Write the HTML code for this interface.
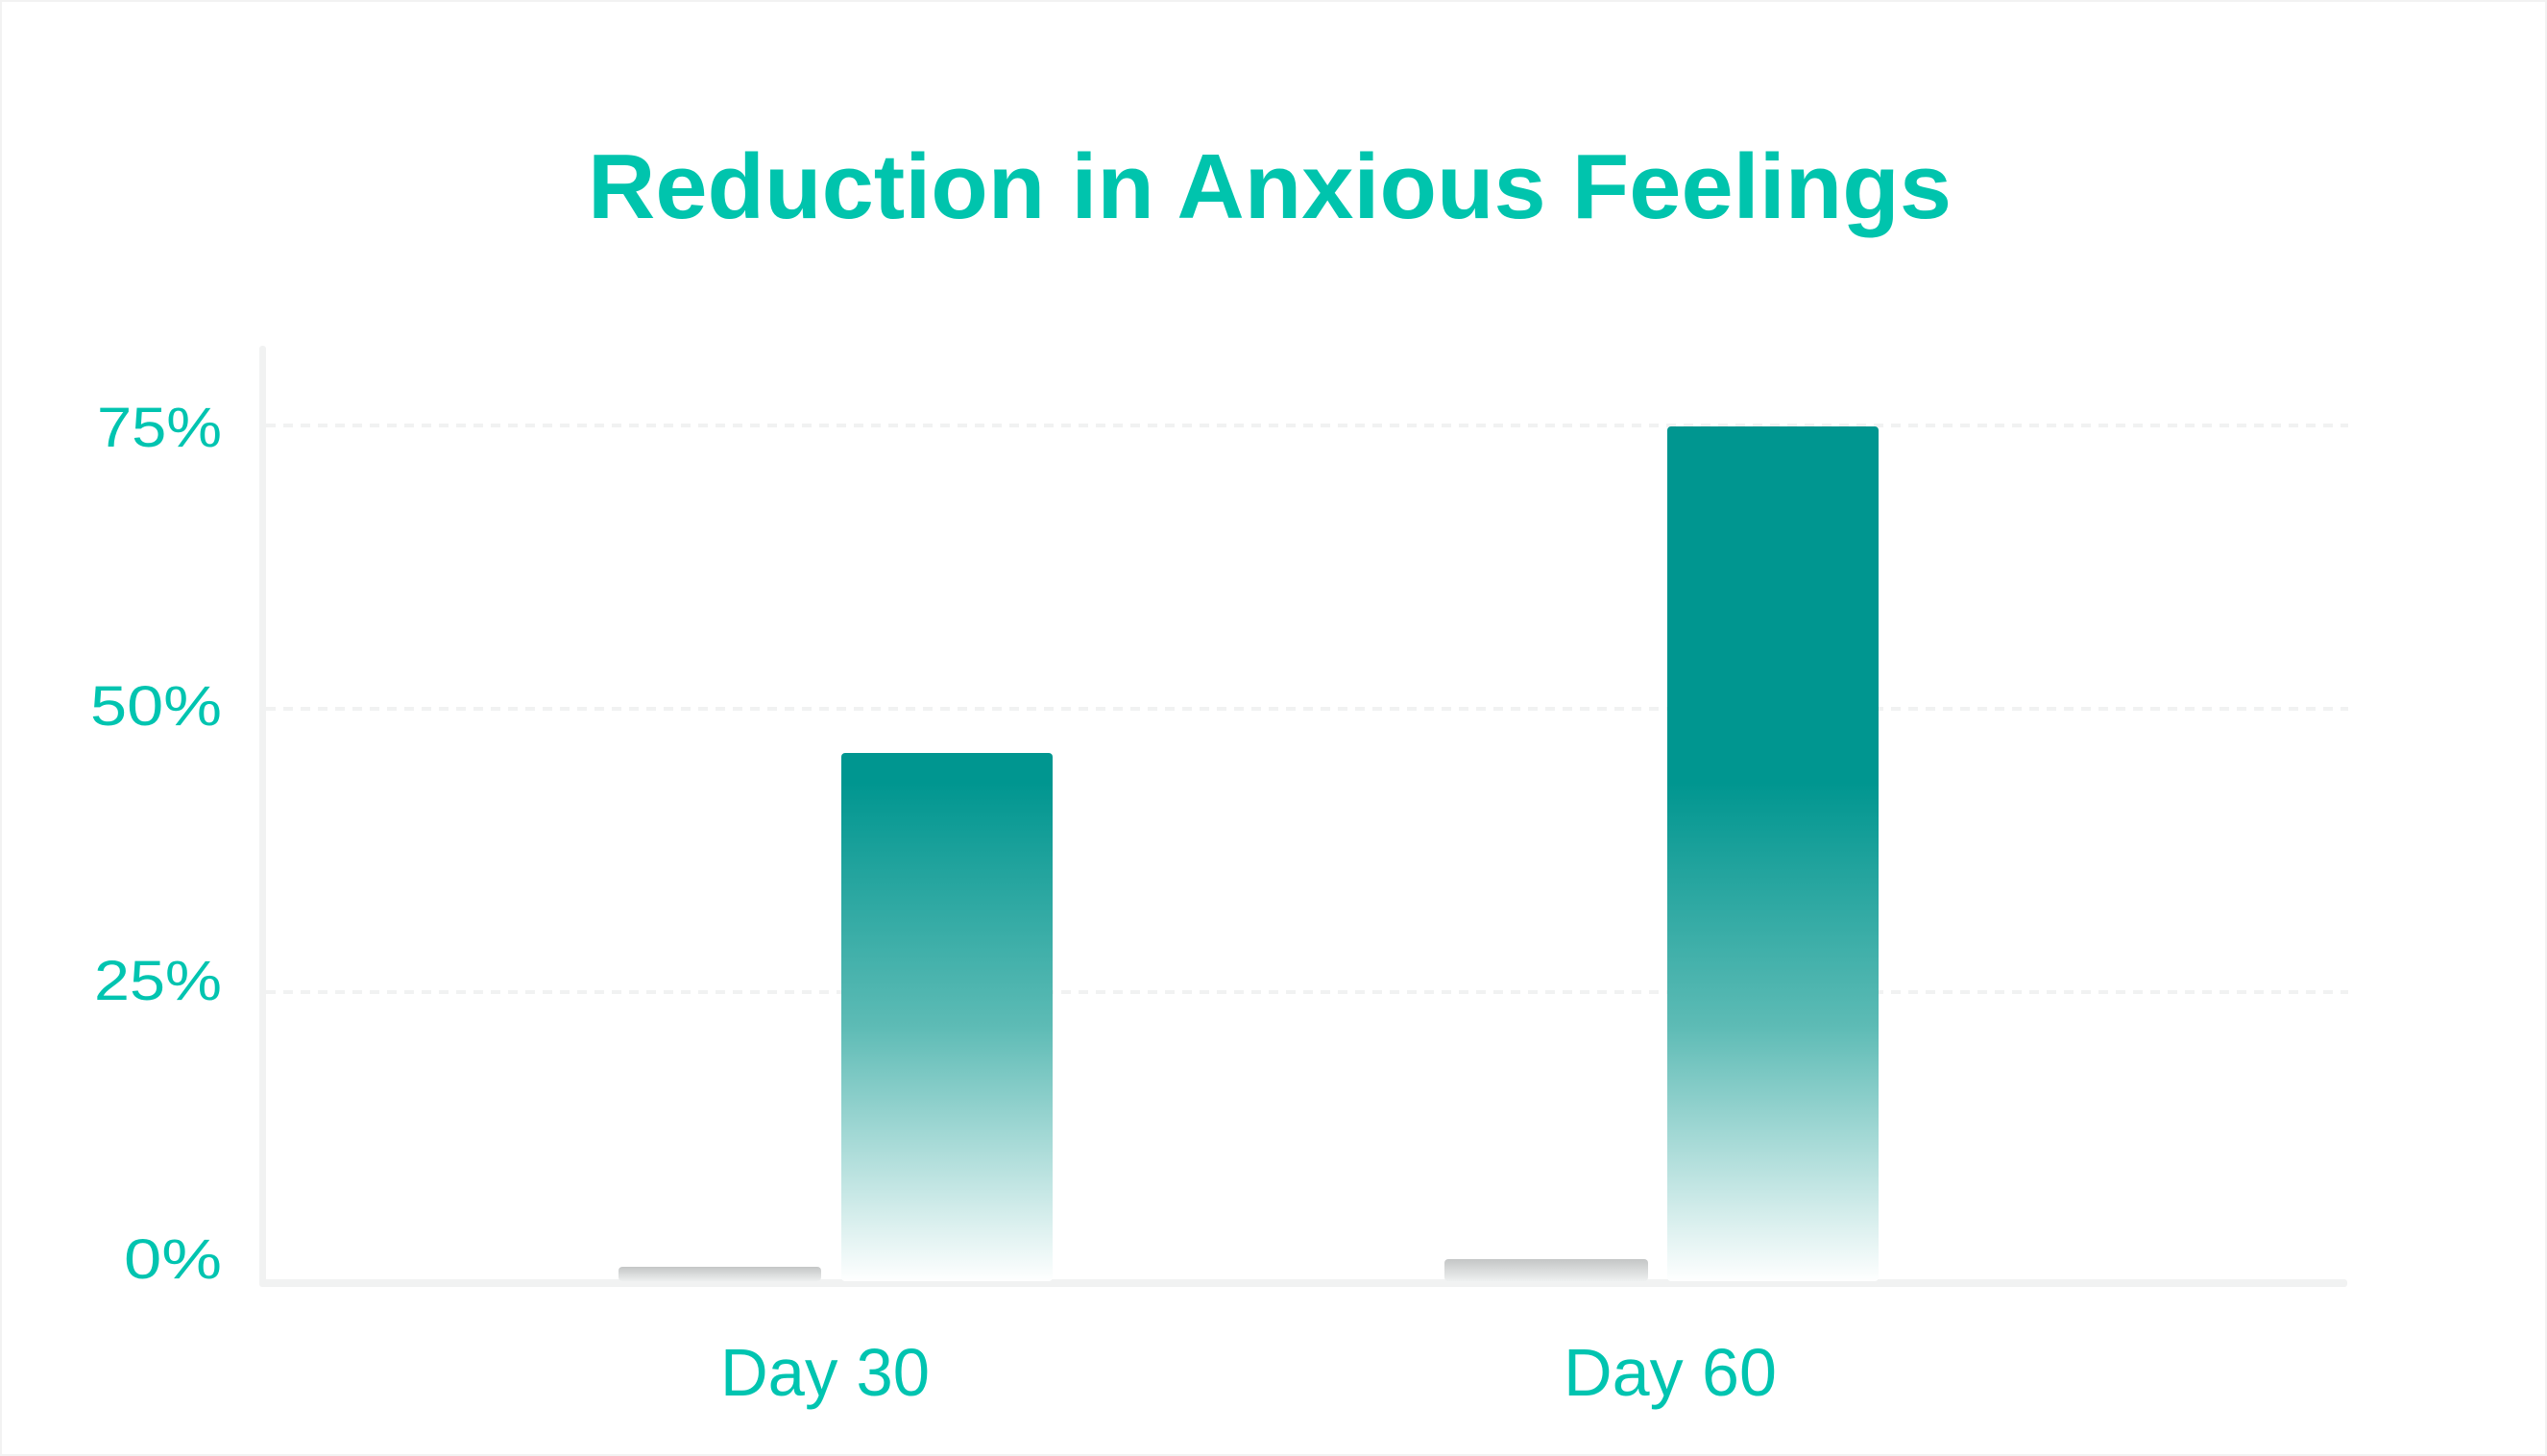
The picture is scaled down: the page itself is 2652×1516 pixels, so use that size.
<!DOCTYPE html>
<html><head><meta charset="utf-8"><style>
html,body{margin:0;padding:0;background:#fff;}
svg{display:block;}
</style></head><body>
<svg width="2652" height="1516" viewBox="0 0 2652 1516" xmlns="http://www.w3.org/2000/svg" font-family="Liberation Sans, sans-serif">
<defs>
<linearGradient id="g" gradientUnits="userSpaceOnUse" x1="0" y1="0" x2="0" y2="1335">
<stop offset="0.61" stop-color="#009690"/>
<stop offset="0.8" stop-color="#5dbbb5"/>
<stop offset="1" stop-color="#ffffff"/>
</linearGradient>
<linearGradient id="gr" x1="0" y1="0" x2="0" y2="1">
<stop offset="0" stop-color="#c4c6c6"/>
<stop offset="1" stop-color="#eef0f0"/>
</linearGradient>
</defs>
<rect x="1" y="1" width="2650" height="1514" fill="#fff" stroke="#f2f2f2" stroke-width="2"/>
<text x="1322" y="227" text-anchor="middle" font-size="96" font-weight="bold" fill="#00c4ad" textLength="1420" lengthAdjust="spacingAndGlyphs">Reduction in Anxious Feelings</text>
<g stroke="#f1f2f2" stroke-width="4" stroke-dasharray="10 8">
<line x1="277" y1="443" x2="2445" y2="443"/>
<line x1="277" y1="738" x2="2445" y2="738"/>
<line x1="277" y1="1033" x2="2445" y2="1033"/>
</g>
<rect x="270" y="360" width="7" height="978" rx="3" fill="#f1f2f2"/>
<rect x="270" y="1332" width="2174" height="8" rx="3" fill="#f1f2f2"/>
<g font-size="58" fill="#00c4b0" text-anchor="end">
<text x="231" y="465" textLength="130" lengthAdjust="spacingAndGlyphs">75%</text>
<text x="231" y="755" textLength="137" lengthAdjust="spacingAndGlyphs">50%</text>
<text x="231" y="1041" textLength="133" lengthAdjust="spacingAndGlyphs">25%</text>
<text x="231" y="1331" textLength="102" lengthAdjust="spacingAndGlyphs">0%</text>
</g>
<rect x="644" y="1319" width="211" height="15" rx="4" fill="url(#gr)"/>
<rect x="1504" y="1311" width="212" height="23" rx="4" fill="url(#gr)"/>
<rect x="876" y="784" width="220" height="550" rx="4" fill="url(#g)"/>
<rect x="1736" y="444" width="220" height="890" rx="4" fill="url(#g)"/>
<g font-size="70" fill="#00c4b0">
<text x="750" y="1453" textLength="218" lengthAdjust="spacingAndGlyphs">Day 30</text>
<text x="1628" y="1453" textLength="222" lengthAdjust="spacingAndGlyphs">Day 60</text>
</g>
</svg>
</body></html>
